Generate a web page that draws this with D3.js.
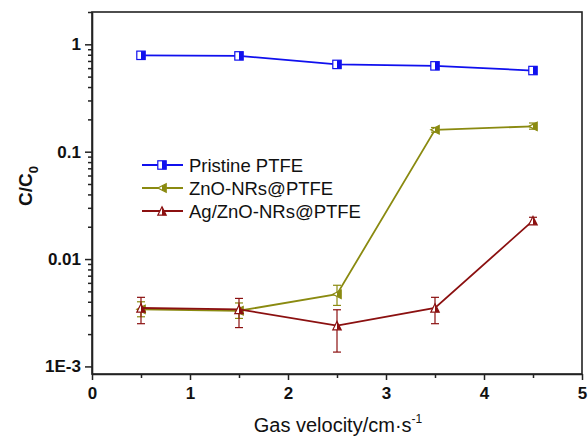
<!DOCTYPE html>
<html><head><meta charset="utf-8">
<script src="https://cdn.jsdelivr.net/npm/d3@7"></script>
<style>body{margin:0;background:#fff}svg{display:block;font-family:"Liberation Sans",Arial,sans-serif}</style>
</head><body><svg id="c" width="588" height="440"></svg>
<script>
const velocity = [0.5, 1.5, 2.5, 3.5, 4.5];
const pristine = [0.79, 0.78, 0.65, 0.63, 0.57];
const zno = [0.0034, 0.0033, 0.0047, 0.16, 0.172];
const znoHigh = [0.0040, 0.0039, 0.0057, 0.168, 0.185];
const znoLow = [0.0029, 0.0028, 0.0037, 0.152, 0.162];
const ag = [0.0035, 0.0034, 0.0024, 0.0035, 0.0228];
const agHigh = [0.0044, 0.0043, 0.00337, 0.0044, 0.0245];
const agLow = [0.0025, 0.0023, 0.00136, 0.0025, 0.0212];
const seriesNames = ["Pristine PTFE", "ZnO-NRs@PTFE", "Ag/ZnO-NRs@PTFE"];
const xTicks = [0, 1, 2, 3, 4, 5];
const yTicks = [0.001, 0.01, 0.1, 1];
const yTickLabels = ["1E-3", "0.01", "0.1", "1"];

const svg = d3.select("#c");
const m = {l: 92, r: 6, t: 12, b: 66};
const W = 588, H = 440;
const x = d3.scaleLinear().domain([0, 5]).range([m.l, W - m.r]);
const y = d3.scaleLog().domain([0.00085, 2]).range([H - m.b, m.t]);

// frame
svg.append("rect").attr("x", m.l).attr("y", m.t).attr("width", W - m.r - m.l).attr("height", H - m.b - m.t)
  .attr("fill", "none").attr("stroke", "#222").attr("stroke-width", 1.6);

// x axis
const xa = svg.append("g").attr("transform", `translate(0,${H - m.b})`)
  .call(d3.axisBottom(x).tickValues(xTicks).tickFormat(d3.format("d")).tickSize(6).tickSizeOuter(0));
const xMinor = svg.append("g").attr("transform", `translate(0,${H - m.b})`)
  .call(d3.axisBottom(x).tickValues(velocity).tickFormat("").tickSize(4).tickSizeOuter(0));
xMinor.select(".domain").remove();
// y axis
const ya = svg.append("g").attr("transform", `translate(${m.l},0)`)
  .call(d3.axisLeft(y).tickValues(yTicks).tickFormat((d, i) => yTickLabels[i]).tickSize(7).tickSizeOuter(0));
const minorY = [];
[0.001, 0.01, 0.1, 1].forEach(p => { for (let k = 2; k <= 9; k++) { const v = p * k; if (v <= 2) minorY.push(v); } });
const yMinor = svg.append("g").attr("transform", `translate(${m.l},0)`)
  .call(d3.axisLeft(y).tickValues(minorY).tickFormat("").tickSize(4).tickSizeOuter(0));
yMinor.select(".domain").remove();
[xa, ya, xMinor, yMinor].forEach(g => {
  g.selectAll(".domain").attr("stroke", "#222").attr("stroke-width", 1.6);
  g.selectAll(".tick line").attr("stroke", "#222").attr("stroke-width", 1.5);
});
[xa, ya].forEach(g => g.selectAll(".tick text").attr("font-size", 17).attr("font-weight", "bold").attr("fill", "#111")
  .attr("font-family", "'Liberation Sans',Arial,sans-serif"));
xa.selectAll(".tick text").attr("dy", "0.95em");
ya.selectAll(".tick text").attr("dx", "-1");

// axis labels
const xl = svg.append("text").attr("x", 338).attr("y", 432).attr("text-anchor", "middle").attr("font-size", 20).attr("fill", "#111");
xl.append("tspan").text("Gas velocity/cm·s");
xl.append("tspan").attr("dy", -9).attr("font-size", 12).text("-1");
const yl = svg.append("text").attr("transform", "translate(32,186) rotate(-90)").attr("text-anchor", "middle")
  .attr("font-size", 19).attr("font-weight", "bold").attr("fill", "#111");
yl.append("tspan").text("C/C");
yl.append("tspan").attr("dy", 6).attr("font-size", 13).text("0");

const colors = ["#1010ee", "#8a8a10", "#8b1010"];
const data = [
  {vals: pristine, hi: null, lo: null, shape: "square"},
  {vals: zno, hi: znoHigh, lo: znoLow, shape: "left"},
  {vals: ag, hi: agHigh, lo: agLow, shape: "up"}
];
const line = d3.line().x((d, i) => x(velocity[i])).y(d => y(d));

function marker(g, shape, color, cx, cy) {
  const s = 4.2;
  const mg = g.append("g").attr("transform", `translate(${cx},${cy})`);
  if (shape === "square") {
    mg.append("rect").attr("x", -s).attr("y", -s).attr("width", 2 * s).attr("height", 2 * s).attr("fill", "#fff").attr("stroke", color).attr("stroke-width", 1.2);
    mg.append("rect").attr("x", 0).attr("y", -s).attr("width", s).attr("height", 2 * s).attr("fill", color);
  } else if (shape === "left") {
    mg.append("path").attr("d", `M${-s},0L${s},${-s}L${s},${s}Z`).attr("fill", "#fff").attr("stroke", color).attr("stroke-width", 1.2);
    mg.append("path").attr("d", `M0,${-s / 2}L${s},${-s}L${s},${s}L0,${s / 2}Z`).attr("fill", color);
  } else {
    mg.append("path").attr("d", `M0,${-s}L${s},${s}L${-s},${s}Z`).attr("fill", "#fff").attr("stroke", color).attr("stroke-width", 1.2);
    mg.append("path").attr("d", `M0,${-s}L${s},${s}L0,${s}Z`).attr("fill", color);
  }
}

data.forEach((s, k) => {
  const g = svg.append("g");
  const c = colors[k];
  if (s.hi) {
    velocity.forEach((v, i) => {
      const xx = x(v), y1 = y(s.hi[i]), y2 = y(s.lo[i]);
      g.append("line").attr("x1", xx).attr("x2", xx).attr("y1", y1).attr("y2", y2).attr("stroke", c).attr("stroke-width", 1.2);
      [y1, y2].forEach(yy => g.append("line").attr("x1", xx - 4).attr("x2", xx + 4).attr("y1", yy).attr("y2", yy).attr("stroke", c).attr("stroke-width", 1.2));
    });
  }
  g.append("path").datum(s.vals).attr("d", line).attr("fill", "none").attr("stroke", c).attr("stroke-width", 1.8);
  s.vals.forEach((d, i) => marker(g, s.shape, c, x(velocity[i]), y(d)));
});

// legend
const lg = svg.append("g");
const ly = [165, 188, 211];
seriesNames.forEach((n, k) => {
  lg.append("line").attr("x1", 142).attr("x2", 183).attr("y1", ly[k]).attr("y2", ly[k]).attr("stroke", colors[k]).attr("stroke-width", 1.8);
  marker(lg, data[k].shape, colors[k], 162, ly[k]);
  lg.append("text").attr("x", 189).attr("y", ly[k] + 6.5).attr("font-size", 18.5).attr("fill", "#111").text(n);
});
</script></body></html>
